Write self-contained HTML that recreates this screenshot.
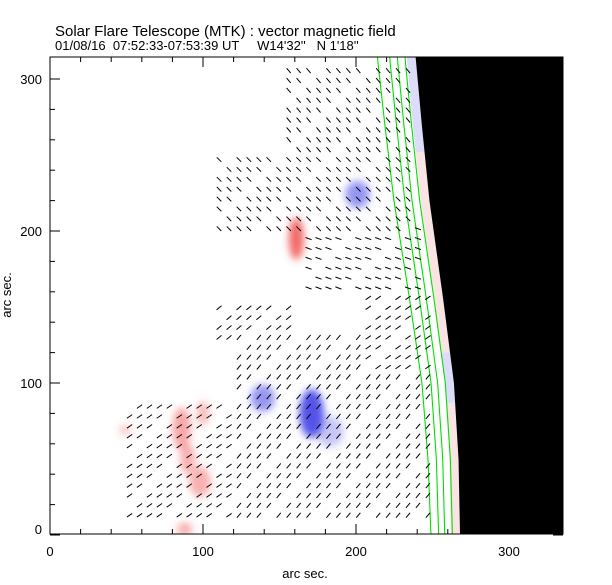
<!DOCTYPE html>
<html><head><meta charset="utf-8"><style>
html,body{margin:0;padding:0;background:#fff;}
svg{display:block;font-family:"Liberation Sans",sans-serif;}
</style></head><body>
<svg id="chart" width="612" height="585" viewBox="0 0 612 585">
<defs>
<filter id="blur" x="-50%" y="-50%" width="200%" height="200%"><feGaussianBlur stdDeviation="4"/></filter>
<clipPath id="plotclip"><rect x="50" y="57" width="513" height="477"/></clipPath>
</defs>
<text x="55" y="36" font-size="15" fill="#000">Solar Flare Telescope (MTK) : vector magnetic field</text>
<text x="55" y="50" font-size="13" fill="#000" xml:space="preserve">01/08/16  07:52:33-07:53:39 UT     W14'32''   N 1'18''</text>
<g id="plot" clip-path="url(#plotclip)">
<g id="blobs" filter="url(#blur)"></g>
<g id="fringe"></g>
<path id="limb" fill="#000"/>
<g id="contours" fill="none" stroke="#00e000" stroke-width="1.1"></g>
<g id="vectors" stroke="#000" stroke-width="1"></g>
</g>
<rect x="50" y="57" width="513" height="477" fill="none" stroke="#000" stroke-width="1"/>
<g id="axes" stroke="#000" stroke-width="1"></g>
<g id="labels" font-size="13" fill="#000"></g>
<text x="305" y="578" font-size="13" text-anchor="middle">arc sec.</text>
<text x="0" y="0" font-size="13" text-anchor="middle" transform="translate(11,295) rotate(-90)">arc sec.</text>
</svg>
<script>
// ---- data ----
const xTicks = [0, 100, 200, 300];
const yTicks = [0, 100, 200, 300];
const limbY = [0, 50, 100, 155, 220, 270, 314];
const limbX = [268, 267, 264, 257, 248, 243, 239];
const contourOffsetsBottom = [19, 14, 10, 5];
const contourOffsetsTop = [25, 17, 12, 7];
// blobs: x, y (arcsec), rx, ry, polarity (+1 red, -1 blue), strength
const blobX = [161, 201, 171, 139, 86, 98, 49, 88, 183, 90, 100];
const blobY = [195, 224, 80, 90, 70, 35, 69, 4, 68, 50, 80];
const blobRX = [5, 8, 8, 8, 6, 7, 4, 5, 9, 5, 4];
const blobRY = [14, 9, 16, 9, 14, 10, 3, 4, 10, 10, 8];
const blobPol = [1, -1, -1, -1, 1, 1, 1, 1, -1, 1, 1];
const blobStr = [0.85, 0.55, 0.9, 0.55, 0.5, 0.45, 0.35, 0.5, 0.3, 0.45, 0.4];
// vector regions: x0,x1,y0,y1 (arcsec), angle (deg, screen rotation)
const regX0 = [154, 108, 163, 203, 118, 52, 110];
const regX1 = [240, 240, 245, 250, 250, 118, 160];
const regY0 = [252, 197, 160, 108, 10, 10, 125];
const regY1 = [308, 252, 210, 160, 135, 88, 150];
const regAng = [50, 45, 20, -35, -50, -35, -40];
// ---- scales ----
const X = v => 50 + v * 1.53;
const Y = v => 535 - v * 1.52;
const NS = 'http://www.w3.org/2000/svg';
function mk(tag, attrs, parent) {
  const e = document.createElementNS(NS, tag);
  for (const k in attrs) e.setAttribute(k, attrs[k]);
  parent.appendChild(e);
  return e;
}
function limbAt(y) {
  for (let i = 0; i < limbY.length - 1; i++) {
    if (y <= limbY[i + 1]) {
      const t = (y - limbY[i]) / (limbY[i + 1] - limbY[i]);
      return limbX[i] + t * (limbX[i + 1] - limbX[i]);
    }
  }
  return limbX[limbX.length - 1];
}
// limb
let d = `M ${X(limbX[0])} ${Y(-5)}`;
for (let i = 0; i < limbY.length; i++) d += ` L ${X(limbX[i])} ${Y(limbY[i])}`;
d += ` L ${X(limbX[limbX.length-1]-2)} ${Y(330)} L 600 ${Y(330)} L 600 ${Y(-5)} Z`;
document.getElementById('limb').setAttribute('d', d);
// fringe near limb
const fr = document.getElementById('fringe');
for (let y = 0; y <= 314; y += 3) {
  const lx = limbAt(y);
  const blue = y > 250 || (y > 85 && y < 120);
  const el = mk('rect', {x: X(lx - 6), y: Y(y + 3), width: 6 * 1.53, height: 3 * 1.52,
    fill: blue ? '#c4c4f6' : '#f6d0d0', opacity: 0.6}, fr);
  
  
}
// blobs
const bg = document.getElementById('blobs');
for (let i = 0; i < blobX.length; i++) {
  const col = blobPol[i] > 0 ? '#f05050' : '#4040e8';
  const el = mk('ellipse', {cx: X(blobX[i]), cy: Y(blobY[i]), rx: blobRX[i] * 1.53, ry: blobRY[i] * 1.52,
    fill: col, opacity: blobStr[i]}, bg);
  
  
}
// contours
const cg = document.getElementById('contours');
for (let c = 0; c < contourOffsetsBottom.length; c++) {
  let p = '';
  for (let y = -5; y <= 320; y += 5) {
    const t = Math.max(0, Math.min(1, y / 314));
    const off = contourOffsetsBottom[c] + t * (contourOffsetsTop[c] - contourOffsetsBottom[c]);
    p += (p ? ' L ' : 'M ') + X(limbAt(Math.max(0, y)) - off) + ' ' + Y(y);
  }
  const el = mk('path', {d: p}, cg);
  
  
}
// vectors
const vg = document.getElementById('vectors');
const step = 6.5;
const used = new Set();
for (let r = 0; r < regX0.length; r++) {
  for (let gx = Math.ceil(regX0[r] / step) * step; gx <= regX1[r]; gx += step) {
    for (let gy = Math.ceil(regY0[r] / step) * step; gy <= regY1[r]; gy += step) {
      const ix = Math.round(gx / step), iy = Math.round(gy / step);
      const key = ix + ',' + iy;
      if (used.has(key)) continue;
      if (gx > limbAt(gy) - 2) continue;
      used.add(key);
      if ((ix * 7 + iy * 3) % 5 === 0) continue;
      const a = regAng[r] * Math.PI / 180, L = 3.2;
      const cx = X(gx), cy = Y(gy);
      const el = mk('line', {x1: cx - L * Math.cos(a), y1: cy - L * Math.sin(a), x2: cx + L * Math.cos(a), y2: cy + L * Math.sin(a)}, vg);
      
      
    }
  }
}
// axes ticks
const ag = document.getElementById('axes'), lg = document.getElementById('labels');
for (let v = 0; v <= 335; v += 20) {
  const major = v % 100 === 0;
  const len = major ? 10 : 5, x = X(v);
  mk('line', {x1: x, y1: 534, x2: x, y2: 534 - len}, ag);
  mk('line', {x1: x, y1: 57, x2: x, y2: 57 + len}, ag);
}
for (let v = 0; v <= 314; v += 20) {
  const major = v % 100 === 0;
  const len = major ? 10 : 5, y = Y(v);
  mk('line', {x1: 50, y1: y, x2: 50 + len, y2: y}, ag);
  mk('line', {x1: 563, y1: y, x2: 563 - len, y2: y}, ag);
}
xTicks.forEach(v => {
  const t = mk('text', {x: X(v), y: 556, 'text-anchor': 'middle'}, lg);
  t.textContent = v;
  
  
});
yTicks.forEach(v => {
  const t = mk('text', {x: 42, y: Math.min(Y(v) + 5, 534), 'text-anchor': 'end'}, lg);
  t.textContent = v;
  
  
});
</script>
</body></html>
